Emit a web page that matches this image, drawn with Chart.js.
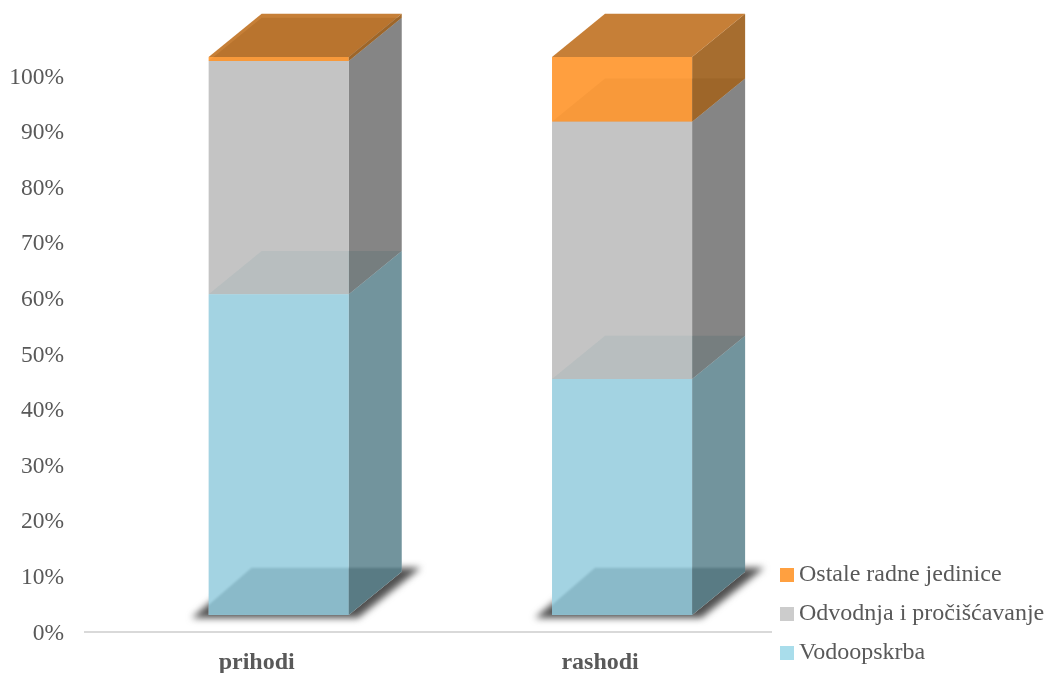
<!DOCTYPE html>
<html>
<head>
<meta charset="utf-8">
<title>Prihodi i rashodi</title>
<script src="https://cdn.jsdelivr.net/npm/chart.js@4"></script>
<style>
  html, body { margin: 0; padding: 0; background: #fff; }
  canvas { display: block; }
</style>
</head>
<body>
<canvas id="chart" width="1049" height="673"></canvas>
<script>
// data
const categories = ["prihodi", "rashodi"];
const vodoopskrba = [57.5, 42.3];
const odvodnja = [41.8, 46.1];
const ostale = [0.7, 11.6];
const yTicks = [0, 10, 20, 30, 40, 50, 60, 70, 80, 90, 100];

const FONT = "'Liberation Serif', 'Times New Roman', serif";
const TEXT = "#595959";

// 3D look
const SHIFT_X = 22, SHIFT_Y = -17, STRETCH = 558 / 556;
const DEPTH_X = 53, DEPTH_Y = 43;
const sideColors = ["rgba(67,112,124,.75)", "rgba(92,92,92,.75)", "rgba(156,93,24,.9)"];
const seamColors = ["rgb(195,225,230)", "rgb(168,182,195)"];
const topColor = "rgba(188,104,20,.85)";
const swatchColors = ["#a9ddeb", "#cccccc", "#ffa040"];

function poly(ctx, pts, fill) {
  ctx.beginPath();
  pts.forEach((p, i) => i ? ctx.lineTo(p[0], p[1]) : ctx.moveTo(p[0], p[1]));
  ctx.closePath();
  if (fill) { ctx.fillStyle = fill; ctx.fill(); }
}

// parallelogram going back from a front edge at height y
function flat(x, y, w) {
  return [[x, y], [x + w, y], [x + w + DEPTH_X, y - DEPTH_Y], [x + DEPTH_X, y - DEPTH_Y]];
}

// legend square, as a canvas so it can sit close to the text
function swatch(color) {
  const c = document.createElement("canvas");
  c.width = 14;
  c.height = 14;
  const g = c.getContext("2d");
  g.fillStyle = color;
  g.fillRect(0, 0, 14, 14);
  return c;
}

const box3d = {
  id: "box3d",
  afterLayout(chart) {
    // legend sits a bit lower than the library would put it
    chart.legend.left = 771;
    chart.legend.right = 1049;
    chart.legend.bottom += 7;
  },
  beforeDatasetsDraw(chart) {
    const ctx = chart.ctx;
    const y0 = chart.chartArea.bottom;
    ctx.save();
    ctx.transform(1, 0, 0, STRETCH, SHIFT_X, (1 - STRETCH) * y0 + SHIFT_Y);

    const count = chart.data.datasets.length;
    categories.forEach((c, j) => {
      const first = chart.getDatasetMeta(0).data[j];
      const w = first.width, x = first.x - w / 2, b = first.base;

      // floor shadow
      const floor = [[x - 13, b + 1], [x + 43, b - 47], [x + w + 71, b - 47], [x + w + 7, b + 2]];
      ctx.save();
      ctx.filter = "blur(3.5px)";
      poly(ctx, [[x - 17, b + 3], [x + 43, b - 47], [x + w + 72, b - 47], [x + w + 9, b + 3]], "rgb(80,80,80)");
      ctx.restore();

      // floor seen through the box
      ctx.save();
      poly(ctx, [[x, b], [x + w, b], [x + w + DEPTH_X, b - DEPTH_Y], [x + w + DEPTH_X, b - 70], [x, b - 70]]);
      ctx.clip();
      ctx.fillStyle = "#fff";
      ctx.fillRect(x, b - 70, w + DEPTH_X, 70);
      ctx.filter = "blur(1px)";
      poly(ctx, floor, "rgb(155,155,155)");
      ctx.restore();

      // inner floors between the segments
      for (let i = 0; i < count - 1; i++) {
        const bar = chart.getDatasetMeta(i).data[j];
        poly(ctx, flat(x, bar.y, w), seamColors[i]);
      }

      // right sides
      for (let i = 0; i < count; i++) {
        const bar = chart.getDatasetMeta(i).data[j];
        const r = x + w;
        poly(ctx, [[r, bar.y], [r + DEPTH_X, bar.y - DEPTH_Y], [r + DEPTH_X, bar.base - DEPTH_Y], [r, bar.base]], sideColors[i]);
      }

      // top
      const last = chart.getDatasetMeta(count - 1).data[j];
      poly(ctx, flat(x, last.y, w), topColor);
    });
  },
  afterDatasetsDraw(chart) {
    chart.ctx.restore();
  }
};

new Chart(document.getElementById("chart"), {
  type: "bar",
  data: {
    labels: categories,
    datasets: [
      { label: "Vodoopskrba", data: vodoopskrba, backgroundColor: "rgba(132,196,216,.75)" },
      { label: "Odvodnja i pročišćavanje", data: odvodnja, backgroundColor: "rgba(181,181,181,.8)" },
      { label: "Ostale radne jedinice", data: ostale, backgroundColor: "rgba(255,151,47,.92)" }
    ]
  },
  options: {
    responsive: false,
    animation: false,
    layout: { padding: { top: 76, right: 20 } },
    datasets: { bar: { clip: false, borderWidth: 0, barPercentage: 1, categoryPercentage: 0.408 } },
    plugins: {
      tooltip: { enabled: false },
      legend: {
        position: "right",
        align: "end",
        reverse: true,
        labels: {
          color: TEXT,
          font: { family: FONT, size: 24 },
          usePointStyle: true,
          boxWidth: 1,
          boxHeight: 14,
          padding: 15,
          generateLabels(chart) {
            const items = Chart.defaults.plugins.legend.labels.generateLabels(chart);
            items.forEach(it => { it.pointStyle = swatch(swatchColors[it.datasetIndex]); });
            return items;
          }
        }
      }
    },
    scales: {
      x: {
        stacked: true,
        grid: { display: false, drawTicks: false },
        border: { color: "#d9d9d9", width: 2 },
        ticks: { color: TEXT, font: { family: FONT, size: 24, weight: "bold" }, padding: 16 },
        afterFit(s) { s.height = 41; }
      },
      y: {
        stacked: true,
        min: 0,
        max: 100,
        afterBuildTicks(s) { s.ticks = yTicks.map(v => ({ value: v })); },
        grid: { display: false, drawTicks: false },
        border: { display: false },
        ticks: { color: TEXT, font: { family: FONT, size: 23.5 }, padding: 21, labelOffset: 1.5, callback: v => v + "%" },
        afterFit(s) { s.width = 85; }
      }
    }
  },
  plugins: [box3d]
});
</script>
</body>
</html>
